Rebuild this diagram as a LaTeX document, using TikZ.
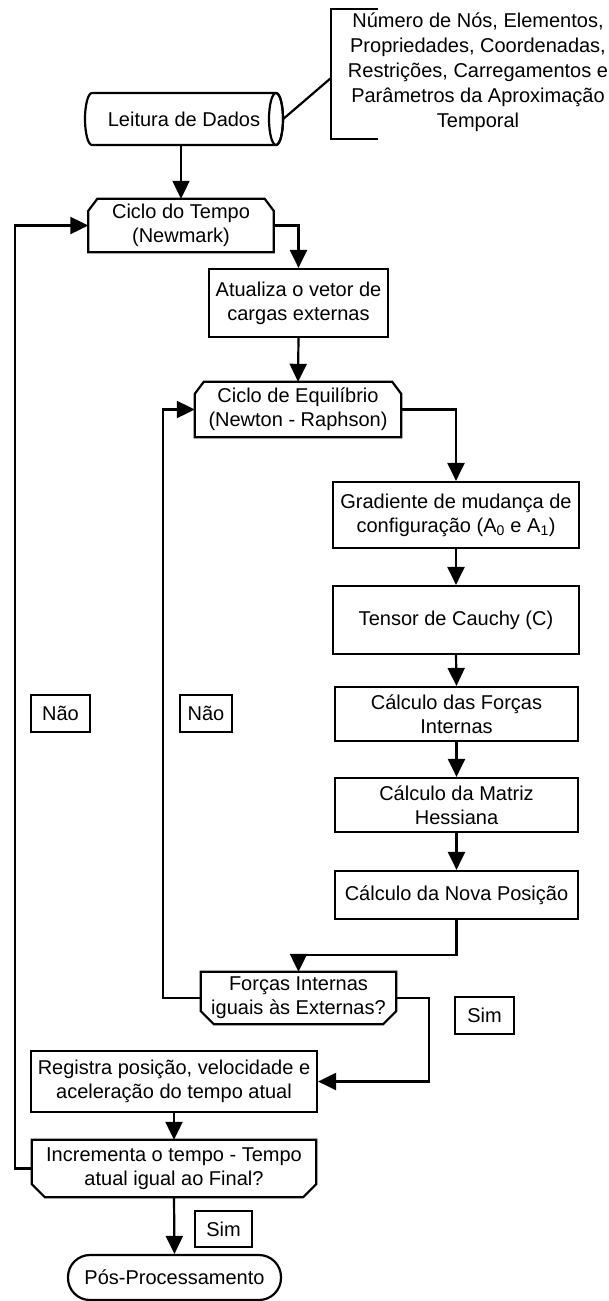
\documentclass[tikz,border=0pt]{standalone}
\usepackage{fontspec}
\setmainfont{Liberation Sans}
\usepackage{tikz}
\usetikzlibrary{arrows.meta,calc,positioning}

\tikzset{
  flowbox/.style={draw,line width=2.2pt,inner sep=0pt,align=center},
  loopbox/.style={inner sep=0pt,align=center},
  tagbox/.style={draw,line width=2.2pt,inner sep=0pt},
  flow/.style={line width=2.2pt,-{Triangle[length=18pt,width=17pt]}},
  link/.style={line width=2.2pt},
}
% loop limits (chamfered corners)
\newcommand\chamtop[1]{\draw[link] ([yshift=-12pt]#1.north west) -- ([xshift=9pt]#1.north west)
  -- ([xshift=-9pt]#1.north east) -- ([yshift=-12pt]#1.north east)
  -- (#1.south east) -- (#1.south west) -- cycle;}
\newcommand\chambot[1]{\draw[link] ([yshift=13pt]#1.south west) -- ([xshift=13pt]#1.south west)
  -- ([xshift=-13pt]#1.south east) -- ([yshift=13pt]#1.south east)
  -- (#1.north east) -- (#1.north west) -- cycle;}

\begin{document}
\begin{tikzpicture}[x=1pt,y=-1pt,font=\fontsize{20}{24}\selectfont]
  \useasboundingbox (0,0) rectangle (608,1301);
  % input
  \node[loopbox,minimum width=198pt,minimum height=52pt] (leit) at (184,119) {Leitura de Dados};
  \begin{scope}[shift={(leit.center)},y=1pt]
    \draw[link] (-92,26) -- (92,26) arc[start angle=90,end angle=-90,x radius=7,y radius=26]
      -- (-92,-26) arc[start angle=270,end angle=90,x radius=7,y radius=26];
    \draw[link] (92,0) ellipse[x radius=7,y radius=26];
  \end{scope}
  \node[align=center,font=\fontsize{20}{25}\selectfont] (dados) at (478,72)
    {Número de Nós, Elementos,\\Propriedades, Coordenadas,\\Restrições, Carregamentos e\\Parâmetros da Aproximação\\Temporal};
  \draw[link] (378,9) -- (331,9) -- (331,139) -- (378,139);
  \coordinate (brk) at (331,78);
  \draw[link] (leit.east) -- (brk);
  % time loop
  \node[loopbox,minimum width=185pt,minimum height=53pt] (tempo) at (181,225.5) {Ciclo do Tempo\\(Newmark)};
  \chamtop{tempo}
  \node[flowbox,minimum width=179pt,minimum height=68pt] (atual) at (298.5,303) {Atualiza o vetor de\\cargas externas};
  % equilibrium loop
  \node[loopbox,minimum width=206pt,minimum height=55pt] (equil) at (298,409.5) {Ciclo de Equilíbrio\\(Newton - Raphson)};
  \chamtop{equil}
  \node[flowbox,minimum width=246pt,minimum height=66pt] (grad) at (456,515) {Gradiente de mudança de\\configuração (A\textsubscript{0} e A\textsubscript{1})};
  \node[flowbox,minimum width=246pt,minimum height=68pt] (tensor) at (456,620) {Tensor de Cauchy (C)};
  \node[flowbox,minimum width=243pt,minimum height=54pt] (forcas) at (456.5,714) {Cálculo das Forças\\Internas};
  \node[flowbox,minimum width=243pt,minimum height=54pt] (hess) at (456.5,805) {Cálculo da Matriz\\Hessiana};
  \node[flowbox,minimum width=243pt,minimum height=48pt] (posic) at (456.5,895) {Cálculo da Nova Posição};
  \node[loopbox,minimum width=195pt,minimum height=52pt] (fint) at (298.5,998) {Forças Internas\\iguais às Externas?};
  \chambot{fint}
  % end of step
  \node[flowbox,minimum width=286pt,minimum height=61pt] (regis) at (174,1081.5) {Registra posição, velocidade e\\aceleração do tempo atual};
  \node[loopbox,minimum width=284pt,minimum height=57pt] (incr) at (174,1168.5) {Incrementa o tempo - Tempo\\atual igual ao Final?};
  \chambot{incr}
  \node[draw,line width=2.2pt,rounded corners=22pt,minimum width=213pt,minimum height=45pt,inner sep=0pt] (pos) at (174.5,1277.5) {Pós-Processamento};
  % labels
  \node[tagbox,minimum width=59pt,minimum height=37pt] (nao1) at (60.5,713.5) {Não};
  \node[tagbox,minimum width=52pt,minimum height=37pt] (nao2) at (206,713.5) {Não};
  \node[tagbox,minimum width=59pt,minimum height=37pt] (sim1) at (484.5,1015.5) {Sim};
  \node[tagbox,minimum width=57pt,minimum height=36pt] (sim2) at (223.5,1229) {Sim};
  % connectors
  \draw[flow] (leit.south -| tempo.north) -- (tempo.north);
  \draw[flow] (tempo.east) -| (atual.north);
  \draw[flow] (atual.south) -- (equil.north);
  \draw[flow] (equil.east) -| (grad.north);
  \foreach \a/\b in {grad/tensor,tensor/forcas,forcas/hess,hess/posic}
    \draw[flow] (\a.south) -- (\b.north);
  \draw[flow] (posic.south) -- ++(0,35) -| (fint.north);
  \draw[flow] (fint.west) -- ++(-38,0) |- (equil.west);
  \draw[flow] (fint.east) -- ++(33,0) |- (regis.east);
  \draw[flow] (regis.south) -- (incr.north);
  \draw[flow] (incr.west) -- ++(-17,0) |- (tempo.west);
  \draw[flow] (incr.south) -- (pos.north);
\end{tikzpicture}
\end{document}
